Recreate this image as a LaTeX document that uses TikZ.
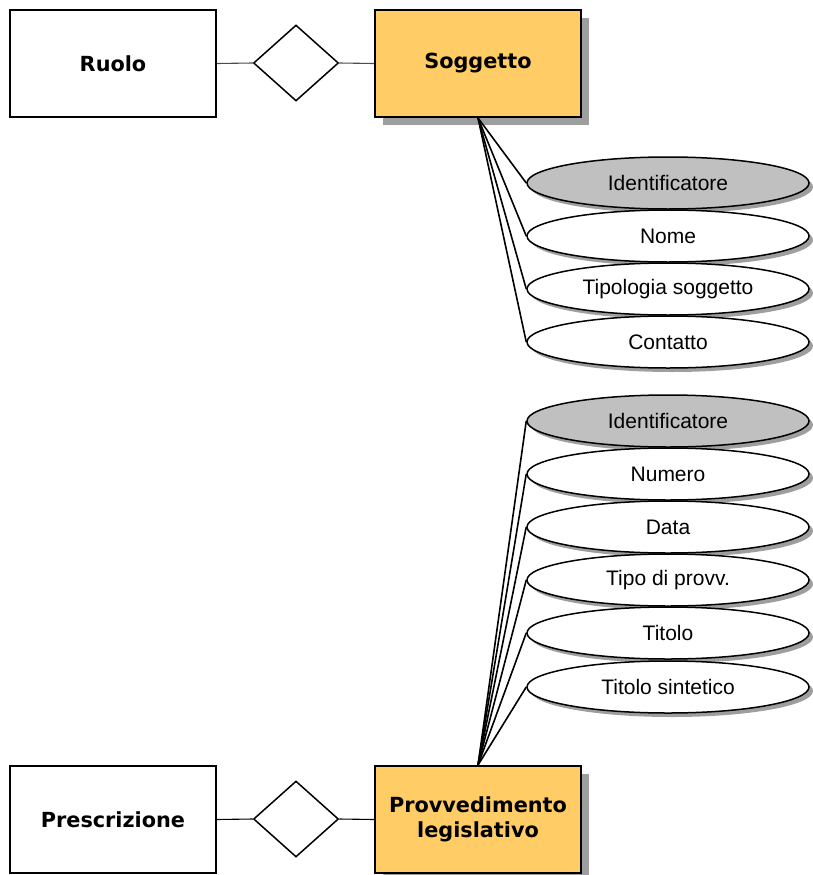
\documentclass[tikz,border=0pt]{standalone}
\usepackage{fontspec}
\setmainfont{Liberation Sans}
\newfontfamily\entfont{DejaVu Sans}
\usetikzlibrary{shapes.geometric,shadows}

\definecolor{entyellow}{RGB}{255,204,102}
\definecolor{keygray}{RGB}{192,192,192}
\definecolor{shadowgray}{RGB}{158,158,158}

\begin{document}
\begin{tikzpicture}[x=1pt,y=-1pt,
  entity/.style={draw, line width=1.9pt, fill=white, minimum width=206pt,
    minimum height=107pt, inner sep=0pt, align=center,
    font=\entfont\bfseries\fontsize{20.8}{25}\selectfont},
  strongentity/.style={entity, fill=entyellow,
    drop shadow={shadow xshift=8pt, shadow yshift=-8pt, fill=shadowgray, opacity=1}},
  relation/.style={diamond, draw, line width=1.5pt, fill=white,
    minimum width=85pt, minimum height=76pt, inner sep=0pt},
  attr/.style={ellipse, draw, line width=1.5pt, fill=white,
    minimum width=282pt, minimum height=52pt, inner sep=0pt,
    font=\fontsize{21}{25}\selectfont,
    drop shadow={shadow xshift=4pt, shadow yshift=-4pt, fill=shadowgray, opacity=1}},
  keyattr/.style={attr, fill=keygray},
  link/.style={line width=1.6pt},
  rellink/.style={line width=1.1pt}]

\useasboundingbox (0,0) rectangle (813,875);

% top relationship: Ruolo -- Soggetto
\node[entity] (ruolo) at (113,63.5) {Ruolo};
\node[relation] (r1) at (296,63) {};
\node[strongentity] (sog) at (478,63.5) {Soggetto};
\draw[rellink, black!70] (ruolo.east) -- (r1.west);
\draw[rellink, black!70] (r1.east) -- (sog.west);

% bottom relationship: Prescrizione -- Provvedimento legislativo
\node[entity] (pres) at (113,819.5) {Prescrizione};
\node[relation] (r2) at (296,819) {};
\node[strongentity] (prov) at (478,819.5) {Provvedimento\\legislativo};
\draw[rellink] (pres.east) -- (r2.west);
\draw[rellink] (r2.east) -- (prov.west);

% attributes of Soggetto
\node[keyattr] (s1) at (668,183) {Identificatore};
\node[attr] (s2) at (668,236) {Nome};
\node[attr] (s3) at (668,289) {Tipologia soggetto};
\node[attr] (s4) at (668,342) {Contatto};

% attributes of Provvedimento legislativo
\node[keyattr] (p1) at (668,421) {Identificatore};
\node[attr] (p2) at (668,474) {Numero};
\node[attr] (p3) at (668,527) {Data};
\node[attr] (p4) at (668,580) {Tipo di provv.};
\node[attr] (p5) at (668,633) {Titolo};
\node[attr] (p6) at (668,687) {Titolo sintetico};

\foreach \a in {s1,s2,s3,s4}
  \draw[link] (sog.south) -- (\a.west);
\foreach \a in {p1,p2,p3,p4,p5,p6}
  \draw[link] (prov.north) -- (\a.west);

\end{tikzpicture}
\end{document}
